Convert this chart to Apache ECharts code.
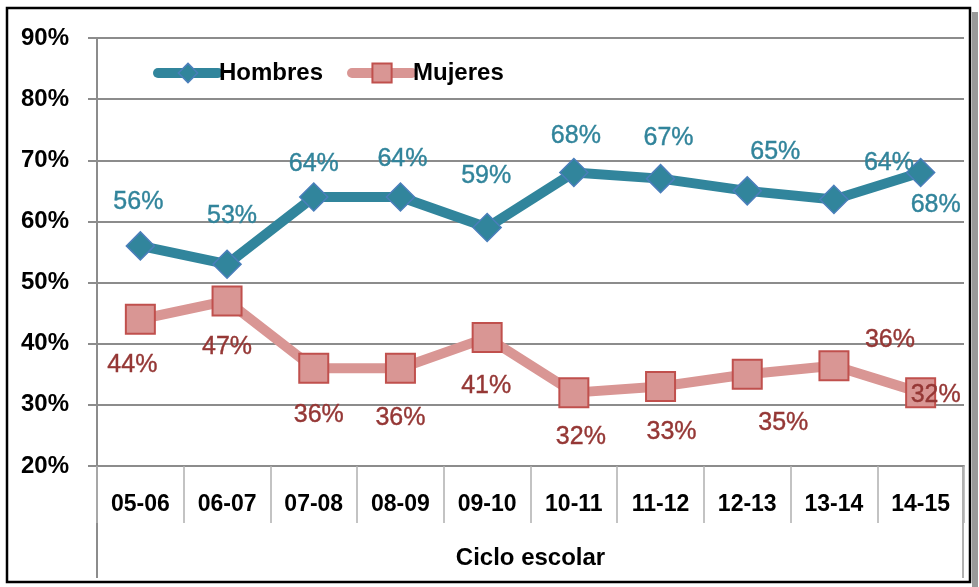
<!DOCTYPE html>
<html>
<head>
<meta charset="utf-8">
<script src="https://cdn.jsdelivr.net/npm/echarts@6/dist/echarts.min.js"></script>
<style>
	html, body { margin: 0; padding: 0; background: #fff; }
	#chart { width: 979px; height: 587px; }
</style>
</head>
<body>
<div id="chart"></div>
<script>
	var ciclos = ['05-06', '06-07', '07-08', '08-09', '09-10', '10-11', '11-12', '12-13', '13-14', '14-15'];
	var hombres = [56, 53, 64, 64, 59, 68, 67, 65, 63.6, 68];
	var mujeres = [44, 47, 36, 36, 41, 32, 33, 35, 36.4, 32];
	var yTicks = [20, 30, 40, 50, 60, 70, 80, 90];

	// desplazamiento de cada etiqueta respecto a su punto
	var offHombres = [[-2, -44], [5, -48], [0, -33], [2, -38], [-1, -51], [2, -36], [8, -41], [28, -39], [55, -36], [15, 33]];
	var offMujeres = [[-8, 46], [0, 46], [5, 47], [0, 50], [-1, 49], [7, 44], [11, 46], [36, 49], [56, -26], [15, 2]];

	var fuente = '"Liberation Sans", Arial, sans-serif';
	var gris = '#8c8c8c';

	function conEtiquetas(values, offsets) {
		var out = [];
		for (var i = 0; i < values.length; i++) {
			out.push({ value: values[i], label: { offset: offsets[i] } });
		}
		return out;
	}

	var chart = echarts.init(document.getElementById('chart'));
	var option = {
		animation: false,
		backgroundColor: '#fff',
		grid: { left: 97, right: 15, top: 38, bottom: 121 },
		legend: {
			left: 148,
			top: 56,
			itemWidth: 60,
			itemHeight: 24,
			itemGap: 24,
			textStyle: { fontFamily: fuente, fontSize: 24, fontWeight: 'bold', color: '#000', padding: [0, 0, 0, -4] },
			data: [
				{ name: 'Hombres', lineStyle: { width: 10, cap: 'round' }, itemStyle: { borderWidth: 1.5 } },
				{ name: 'Mujeres', lineStyle: { width: 10, cap: 'round' }, itemStyle: { borderWidth: 2 } }
			]
		},
		xAxis: {
			type: 'category',
			data: ciclos,
			boundaryGap: true,
			name: 'Ciclo escolar',
			nameLocation: 'middle',
			nameGap: 80,
			nameTextStyle: { fontFamily: fuente, fontSize: 24, fontWeight: 'bold', color: '#000' },
			axisLine: { lineStyle: { color: gris, width: 2 } },
			axisTick: { show: true, interval: 0, length: 57, lineStyle: { color: '#b0b0b0', width: 1.5 } },
			axisLabel: { interval: 0, margin: 27, fontFamily: fuente, fontSize: 23, fontWeight: 'bold', color: '#000' }
		},
		yAxis: {
			type: 'value',
			min: yTicks[0],
			max: yTicks[yTicks.length - 1],
			interval: 10,
			axisLine: { show: true, lineStyle: { color: gris, width: 2 } },
			axisTick: { show: true, length: 9, lineStyle: { color: gris, width: 2 } },
			splitLine: { lineStyle: { color: gris, width: 2 } },
			axisLabel: {
				margin: 28,
				fontFamily: fuente, fontSize: 24, fontWeight: 'bold', color: '#000',
				formatter: function(v) { return v + '%'; }
			}
		},
		series: [
			{
				name: 'Hombres',
				type: 'line',
				data: conEtiquetas(hombres, offHombres),
				symbol: 'diamond',
				symbolSize: 28,
				lineStyle: { color: '#31859C', width: 10 },
				itemStyle: { color: '#31859C', borderColor: '#4A7EBB', borderWidth: 1.5 },
				label: {
					show: true,
					position: 'inside',
					fontFamily: fuente, fontSize: 25, color: '#31849B',
					textBorderColor: '#31849B', textBorderWidth: 0.4,
					formatter: function(p) { return Math.round(p.value) + '%'; }
				},
				z: 3
			},
			{
				name: 'Mujeres',
				type: 'line',
				data: conEtiquetas(mujeres, offMujeres),
				symbol: 'rect',
				symbolSize: 29,
				lineStyle: { color: '#D99694', width: 10 },
				itemStyle: { color: '#D99694', borderColor: '#C0504D', borderWidth: 2 },
				label: {
					show: true,
					position: 'inside',
					fontFamily: fuente, fontSize: 25, color: '#953735',
					textBorderColor: '#953735', textBorderWidth: 0.4,
					formatter: function(p) { return Math.round(p.value) + '%'; }
				},
				z: 2
			}
		],
		graphic: [
			// sombra y marco exterior
			{ type: 'rect', shape: { x: 972, y: 12, width: 6, height: 575 }, style: { fill: '#9a9a9a' }, silent: true },
			{ type: 'rect', shape: { x: 7, y: 8, width: 963, height: 574 }, style: { fill: 'none', stroke: '#000', lineWidth: 2.5 }, silent: true },
			// prolongación de las divisiones bajo el eje
			{ type: 'line', shape: { x1: 97, y1: 466, x2: 97, y2: 578 }, style: { stroke: gris, lineWidth: 2 }, silent: true },
			{ type: 'line', shape: { x1: 963, y1: 466, x2: 963, y2: 578 }, style: { stroke: '#b0b0b0', lineWidth: 2 }, silent: true }
		]
	};
	chart.setOption(option);
</script>
</body>
</html>
